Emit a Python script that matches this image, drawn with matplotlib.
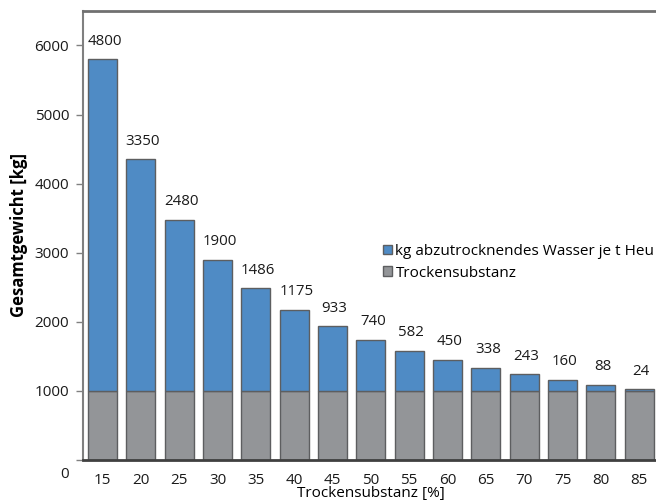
import numpy as np
import matplotlib
matplotlib.use("Agg")
import matplotlib.pyplot as plt
from matplotlib.transforms import ScaledTranslation

plt.rcParams['font.family'] = ['Open Sans', 'DejaVu Sans']

# Trockensubstanz in %
ts = [15, 20, 25, 30, 35, 40, 45, 50, 55, 60, 65, 70, 75, 80, 85]
# kg abzutrocknendes Wasser je t Heu
wasser = [4800, 3350, 2480, 1900, 1486, 1175, 933, 740, 582, 450, 338, 243, 160, 88, 24]
# Trockensubstanz kg
trocken = [1000] * 15

blue = '#4f8bc5'
grey = '#939598'
edge = '#5d5e60'

fig = plt.figure(figsize=(6.56, 5.04), dpi=100)
ax = fig.add_axes([0.1265, 0.0873, 0.877, 0.891])

x = np.arange(len(ts))
w = 0.76
ax.bar(x, trocken, w, color=grey, edgecolor=edge, linewidth=1.0, label='Trockensubstanz')
ax.bar(x, wasser, w, bottom=trocken, color=blue, edgecolor=edge, linewidth=1.0,
       label='kg abzutrocknendes Wasser je t Heu')

for xi, wv, tv in zip(x, wasser, trocken):
    ax.annotate(str(wv), (xi, wv + tv), xytext=(1.5, 7.5), textcoords='offset points',
                ha='center', va='bottom', fontsize=10.8, color='#1a1a1a')

ax.set_xlim(-0.51, 14.5)
ax.set_ylim(0, 6500)
ax.set_xticks(x)
ax.set_xticklabels([str(t) for t in ts], fontsize=11, color='#1a1a1a')
ax.set_yticks(range(0, 7000, 1000))
ax.set_yticklabels([str(v) for v in range(0, 7000, 1000)], fontsize=11, color='#1a1a1a')
ax.tick_params(axis='x', length=0, pad=9)
ax.tick_params(axis='y', length=5, width=1, color='#808080', pad=5)

# "0" sits below the axis line in the original
lab0 = ax.get_yticklabels()[0]
lab0.set_transform(lab0.get_transform() + ScaledTranslation(0, -0.12, fig.dpi_scale_trans))

ax.spines['right'].set_visible(False)
ax.spines['left'].set_color('#808080')
ax.spines['left'].set_linewidth(1.5)
ax.spines['top'].set_color('#707070')
ax.spines['top'].set_linewidth(2)
ax.spines['bottom'].set_color('#404040')
ax.spines['bottom'].set_linewidth(2)

ax.set_ylabel('Gesamtgewicht [kg]', fontsize=12, fontweight='bold', labelpad=5)
ax.set_xlabel('Trockensubstanz [%]', fontsize=11, labelpad=-1)

h, l = ax.get_legend_handles_labels()
ax.legend(h[::-1], l[::-1], loc='upper left', bbox_to_anchor=(0.51, 0.495),
          frameon=False, fontsize=11, handlelength=0.6, handleheight=0.6,
          handletextpad=0.25, labelspacing=0.45, borderaxespad=0)

fig.savefig('out.png', dpi=100)
